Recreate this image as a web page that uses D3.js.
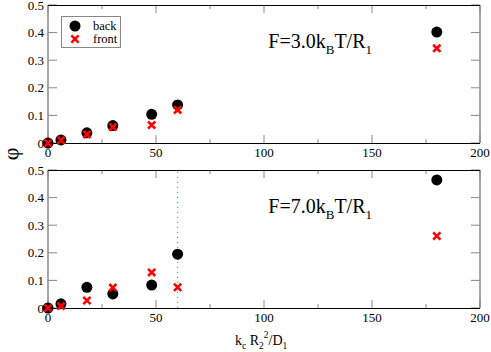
<!DOCTYPE html>
<html>
<head>
<meta charset="utf-8">
<script src="https://cdn.jsdelivr.net/npm/d3@7"></script>
<style>
  body { margin: 0; background: #fff; }
  text { font-family: "Liberation Serif", "Times New Roman", serif; }
</style>
</head>
<body>
<div id="chart"></div>
<script>
// data
const kc = [0, 6, 18, 30, 48, 60, 180];
const back3 = [0, 0.011, 0.037, 0.063, 0.104, 0.138, 0.402];
const front3 = [0, 0.01, 0.031, 0.058, 0.065, 0.12, 0.343];
const back7 = [0, 0.015, 0.075, 0.051, 0.083, 0.195, 0.464];
const front7 = [0, 0.007, 0.027, 0.074, 0.129, 0.075, 0.261];
const forces = ['3.0', '7.0'];
const xTicks = [0, 50, 100, 150, 200];
const yTicks = [0, 0.1, 0.2, 0.3, 0.4, 0.5];
const legendNames = ['back', 'front'];
const markLine = 60;

const width = 491, height = 352;
const margin = {left: 48, right: 11};
const panelTops = [5, 170];
const panelH = 138;

const svg = d3.select('#chart').append('svg')
  .attr('width', width)
  .attr('height', height)
  .attr('viewBox', `0,0,${width},${height}`);

const x = d3.scaleLinear().domain([0, 200]).range([margin.left, width - margin.right]);

const crossPath = s => `M${-s},${-s}L${s},${s}M${-s},${s}L${s},${-s}`;

function drawPanel(top, back, front, force, showLegend, showLine) {
  const y = d3.scaleLinear().domain([0, 0.5]).range([top + panelH, top]);
  const g = svg.append('g');
  const x0 = x(0), x1 = x(200), y0 = y(0), y1 = y(0.5);

  if (showLine) {
    g.append('line')
      .attr('x1', x(markLine)).attr('x2', x(markLine))
      .attr('y1', y(0)).attr('y2', y(0.5))
      .attr('stroke', '#22ee22').attr('stroke-width', 1.3)
      .attr('stroke-dasharray', '1.3,3.7');
  }

  // ticks (inward, all four sides)
  const minor = d3.range(25, 200, 50);
  const tk = g.append('g').attr('stroke', '#888').attr('stroke-width', 1);
  xTicks.forEach(v => {
    tk.append('line').attr('x1', x(v)).attr('x2', x(v)).attr('y1', y0).attr('y2', y0 - 8);
    tk.append('line').attr('x1', x(v)).attr('x2', x(v)).attr('y1', y1).attr('y2', y1 + 8);
  });
  minor.forEach(v => {
    tk.append('line').attr('x1', x(v)).attr('x2', x(v)).attr('y1', y0).attr('y2', y0 - 4);
    tk.append('line').attr('x1', x(v)).attr('x2', x(v)).attr('y1', y1).attr('y2', y1 + 4);
  });
  yTicks.forEach(v => {
    tk.append('line').attr('x1', x0).attr('x2', x0 + 9).attr('y1', y(v)).attr('y2', y(v));
    tk.append('line').attr('x1', x1).attr('x2', x1 - 9).attr('y1', y(v)).attr('y2', y(v));
  });

  // frame
  g.append('line').attr('x1', x0).attr('x2', x0).attr('y1', y0).attr('y2', y1)
    .attr('stroke', '#888').attr('stroke-width', 1.5);
  g.append('line').attr('x1', x1).attr('x2', x1).attr('y1', y0).attr('y2', y1)
    .attr('stroke', '#888').attr('stroke-width', 1.5);
  g.append('line').attr('x1', x0).attr('x2', x1).attr('y1', y0 + 0.5).attr('y2', y0 + 0.5)
    .attr('stroke', '#000').attr('stroke-width', 1);
  g.append('line').attr('x1', x0).attr('x2', x1).attr('y1', y1 + 0.5).attr('y2', y1 + 0.5)
    .attr('stroke', '#000').attr('stroke-width', 1);

  // tick labels
  g.selectAll('.xl').data(xTicks).join('text')
    .attr('x', d => x(d)).attr('y', y0 + 14)
    .attr('text-anchor', 'middle').attr('font-size', 13)
    .text(d => d);
  g.selectAll('.yl').data(yTicks).join('text')
    .attr('x', x0 - 4).attr('y', d => y(d) + 4.5)
    .attr('text-anchor', 'end').attr('font-size', 13)
    .text(d => d === 0 ? '0' : d.toFixed(1));

  // points
  g.selectAll('.b').data(kc).join('circle')
    .attr('cx', d => x(d)).attr('cy', (d, i) => y(back[i]))
    .attr('r', 5.5).attr('fill', '#000');
  g.selectAll('.f').data(kc).join('path')
    .attr('transform', (d, i) => `translate(${x(d)},${y(front[i])})`)
    .attr('d', crossPath(3.6))
    .attr('stroke', '#ff0000').attr('stroke-width', 2.6).attr('fill', 'none');

  // annotation
  const t = g.append('text')
    .attr('x', x(102)).attr('y', top + 43)
    .attr('font-size', 20);
  t.append('tspan').text(`F=${force}k`);
  t.append('tspan').attr('font-size', 13).attr('dy', 6).text('B');
  t.append('tspan').attr('dy', -6).text('T/R');
  t.append('tspan').attr('font-size', 13).attr('dy', 6).text('1');

  if (showLegend) {
    const lg = g.append('g');
    lg.append('rect').attr('x', 61.5).attr('y', 16.5).attr('width', 59).attr('height', 31)
      .attr('fill', '#fff').attr('stroke', '#888').attr('stroke-width', 1);
    lg.append('circle').attr('cx', 75).attr('cy', 26).attr('r', 5.5).attr('fill', '#000');
    lg.append('path').attr('transform', 'translate(75,39)').attr('d', crossPath(3.6))
      .attr('stroke', '#ff0000').attr('stroke-width', 2.6).attr('fill', 'none');
    lg.selectAll('.lt').data(legendNames).join('text')
      .attr('x', 93).attr('y', (d, i) => 30 + i * 13)
      .attr('font-size', 12.5).text(d => d);
  }
}

drawPanel(panelTops[0], back3, front3, forces[0], true, false);
drawPanel(panelTops[1], back7, front7, forces[1], false, true);

// axis titles
svg.append('text')
  .attr('transform', 'translate(18,154) rotate(-90)')
  .attr('text-anchor', 'middle').attr('font-size', 22)
  .text('φ');

const xl = svg.append('text').attr('x', 235).attr('y', 345).attr('font-size', 14);
xl.append('tspan').text('k');
xl.append('tspan').attr('font-size', 9.5).attr('dy', 4).text('c');
xl.append('tspan').attr('dy', -4).text(' R');
xl.append('tspan').attr('font-size', 9.5).attr('dy', 4).text('2');
xl.append('tspan').attr('font-size', 9.5).attr('dy', -11).text('2');
xl.append('tspan').attr('dy', 7).text('/D');
xl.append('tspan').attr('font-size', 9.5).attr('dy', 4).text('1');
</script>
</body>
</html>
